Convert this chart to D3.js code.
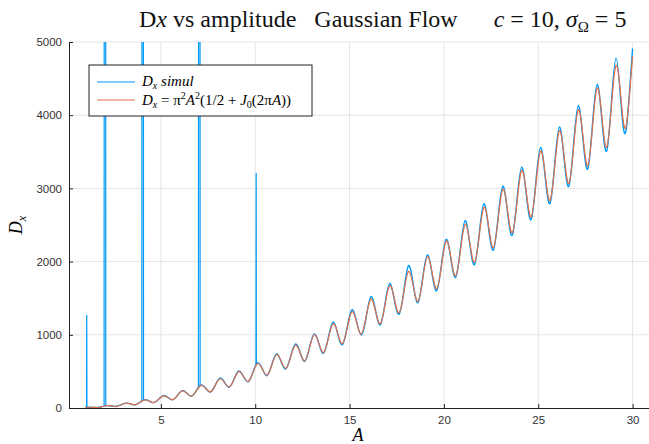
<!DOCTYPE html>
<html>
<head>
<meta charset="utf-8">
<script src="https://cdn.jsdelivr.net/npm/d3@7"></script>
<style>
  body { margin: 0; background: #fff; }
  svg { display: block; }
</style>
</head>
<body>
<svg id="chart" width="649" height="444"></svg>
<script>
// amplitude grid (peaks / zero crossings / troughs of the oscillation)
const ampGrid = [1,
  1.125, 1.375, 1.625, 1.875, 2.125, 2.375, 2.625, 2.875,
  3.125, 3.375, 3.625, 3.875, 4.125, 4.375, 4.625, 4.875,
  5.125, 5.375, 5.625, 5.875, 6.125, 6.375, 6.625, 6.875,
  7.125, 7.375, 7.625, 7.875, 8.125, 8.375, 8.625, 8.875,
  9.125, 9.375, 9.625, 9.875, 10.125, 10.375, 10.625, 10.875,
  11.125, 11.375, 11.625, 11.875, 12.125, 12.375, 12.625, 12.875,
  13.125, 13.375, 13.625, 13.875, 14.125, 14.375, 14.625, 14.875,
  15.125, 15.375, 15.625, 15.875, 16.125, 16.375, 16.625, 16.875,
  17.125, 17.375, 17.625, 17.875, 18.125, 18.375, 18.625, 18.875,
  19.125, 19.375, 19.625, 19.875, 20.125, 20.375, 20.625, 20.875,
  21.125, 21.375, 21.625, 21.875, 22.125, 22.375, 22.625, 22.875,
  23.125, 23.375, 23.625, 23.875, 24.125, 24.375, 24.625, 24.875,
  25.125, 25.375, 25.625, 25.875, 26.125, 26.375, 26.625, 26.875,
  27.125, 27.375, 27.625, 27.875, 28.125, 28.375, 28.625, 28.875,
  29.125, 29.375, 29.625, 29.875, 30];

// theory curve D = pi^2 A^2 (1/2 + J0(2 pi A)), values read on the grid
const theory = [7,
  10, 9, 6, 17, 32, 28, 21, 41,
  65, 56, 43, 74, 110, 95, 74, 117,
  166, 143, 114, 170, 233, 201, 163, 233,
  310, 268, 221, 306, 399, 346, 288, 389,
  497, 434, 363, 481, 607, 531, 448, 584,
  727, 639, 542, 696, 858, 756, 646, 818,
  1000, 883, 758, 950, 1151, 1020, 880, 1092,
  1314, 1167, 1011, 1244, 1487, 1323, 1151, 1405,
  1670, 1490, 1300, 1577, 1864, 1666, 1459, 1758,
  2068, 1853, 1628, 1949, 2282, 2049, 1805, 2150,
  2507, 2255, 1992, 2361, 2743, 2471, 2188, 2582,
  2988, 2696, 2394, 2813, 3244, 2932, 2609, 3054,
  3511, 3178, 2833, 3304, 3788, 3433, 3067, 3564,
  4075, 3698, 3310, 3834, 4372, 3973, 3562, 4115,
  4680, 4258, 3824, 4404, 4807];

// simulated D_x on the same grid
const simul = [8,
  11, 9, 7, 18, 33, 28, 21, 42,
  66, 57, 43, 75, 112, 96, 73, 118,
  170, 144, 112, 172, 238, 203, 160, 236,
  314, 270, 218, 309, 408, 350, 284, 392,
  505, 430, 358, 486, 618, 535, 442, 590,
  740, 632, 535, 703, 872, 762, 638, 826,
  1012, 876, 748, 962, 1175, 1010, 866, 1104,
  1340, 1180, 998, 1232, 1520, 1335, 1135, 1420,
  1700, 1474, 1282, 1595, 1945, 1690, 1440, 1775,
  2090, 1830, 1605, 1970, 2305, 2030, 1785, 2175,
  2560, 2230, 1960, 2390, 2790, 2440, 2160, 2610,
  3030, 2665, 2360, 2850, 3290, 2900, 2575, 3090,
  3560, 3140, 2795, 3340, 3840, 3390, 3030, 3610,
  4130, 3660, 3265, 3880, 4420, 3930, 3510, 4160,
  4780, 4200, 3760, 4460, 4910];

// numerical blow-ups of the simulation near A = 1, 2, 4, 7, 10
const spikeA = [[1.06, 1.07, 1.08], [1.99, 2, 2.07, 2.08], [3.99, 4, 4.07, 4.08],
  [6.99, 7, 7.07, 7.08], [10.04, 10.05, 10.06]];
const spikeD = [[9, 1270, 10], [24, 9000, 9000, 30], [95, 9000, 9000, 108],
  [270, 9000, 9000, 300], [585, 3210, 600]];

const xTicks = [5, 10, 15, 20, 25, 30];
const yTicks = [0, 1000, 2000, 3000, 4000, 5000];

const blue = "#009af9", orange = "#e26f46";
const serif = "'Liberation Serif', 'DejaVu Serif', serif";
const sans = "'Liberation Sans', Arial, sans-serif";

const svg = d3.select("#chart");
const pLeft = 69, pRight = 649, pTop = 42, pBottom = 408;

const x = d3.scaleLinear().domain([0.13, 30.87]).range([pLeft, pRight]);
const y = d3.scaleLinear().domain([0, 5000]).range([pBottom, pTop]);

svg.append("defs").append("clipPath").attr("id", "plotclip")
  .append("rect").attr("x", pLeft).attr("y", pTop)
  .attr("width", pRight - pLeft).attr("height", pBottom - pTop);

// grid
const grid = svg.append("g").attr("stroke", "#e5e5e5").attr("stroke-width", 1);
grid.selectAll(".gx").data(xTicks).join("line")
  .attr("x1", d => x(d)).attr("x2", d => x(d)).attr("y1", pTop).attr("y2", pBottom);
grid.selectAll(".gy").data(yTicks.slice(1)).join("line")
  .attr("y1", d => y(d)).attr("y2", d => y(d)).attr("x1", pLeft).attr("x2", pRight);

// series
const plot = svg.append("g").attr("clip-path", "url(#plotclip)");
const smooth = d3.line().x(d => x(d[0])).y(d => y(d[1])).curve(d3.curveNatural);
const straight = d3.line().x(d => x(d[0])).y(d => y(d[1]));

plot.append("path")
  .datum(d3.zip(ampGrid, simul))
  .attr("fill", "none").attr("stroke", blue).attr("stroke-width", 1.4)
  .attr("d", smooth);
plot.selectAll(".spike").data(d3.zip(spikeA, spikeD)).join("path")
  .attr("fill", "none").attr("stroke", blue).attr("stroke-width", 1.2)
  .attr("d", ([a, d]) => straight(d3.zip(a, d)));

plot.append("path")
  .datum(d3.zip(ampGrid, theory))
  .attr("fill", "none").attr("stroke", orange).attr("stroke-width", 1.2)
  .attr("d", smooth);

// axes
const xAxis = svg.append("g").attr("transform", `translate(0,${pBottom})`)
  .call(d3.axisBottom(x).tickValues(xTicks).tickFormat(d3.format("d"))
    .tickSize(-4).tickSizeOuter(0).tickPadding(8));
const yAxis = svg.append("g").attr("transform", `translate(${pLeft},0)`)
  .call(d3.axisLeft(y).tickValues(yTicks).tickFormat(d3.format("d"))
    .tickSize(-4).tickSizeOuter(0).tickPadding(7));
[xAxis, yAxis].forEach(g => {
  g.select(".domain").attr("stroke", "#222").attr("stroke-width", 1);
  g.selectAll(".tick line").attr("stroke", "#222");
  g.selectAll(".tick text").attr("fill", "#333")
    .style("font-family", sans).style("font-size", "11.5px");
});

// axis labels
svg.append("text").attr("x", 358).attr("y", 441).attr("text-anchor", "middle")
  .style("font-family", serif).style("font-style", "italic").style("font-size", "18px")
  .text("A");
const yl = svg.append("text").attr("transform", "translate(22,225) rotate(-90)")
  .attr("text-anchor", "middle").style("font-family", serif).style("font-size", "18px");
yl.append("tspan").style("font-style", "italic").text("D");
yl.append("tspan").style("font-style", "italic").style("font-size", "12px").attr("dy", 4).text("x");

// title
const title = svg.append("text").attr("x", 139).attr("y", 27)
  .style("font-family", serif).style("font-size", "24px").attr("fill", "#111");
title.append("tspan").text("D");
title.append("tspan").style("font-style", "italic").text("x");
title.append("tspan").text(" vs amplitude\u2002 Gaussian Flow\u2003\u2002");
title.append("tspan").style("font-style", "italic").text("c");
title.append("tspan").text(" = 10, ");
title.append("tspan").style("font-style", "italic").text("\u03c3");
title.append("tspan").style("font-size", "15px").attr("dy", 5).text("\u03a9");
title.append("tspan").attr("dy", -5).text(" = 5");

// legend
const lg = svg.append("g");
lg.append("rect").attr("x", 89).attr("y", 65).attr("width", 223).attr("height", 51)
  .attr("fill", "#fff").attr("stroke", "#222").attr("stroke-width", 1);
const legendItems = [
  { color: blue, y: 82 },
  { color: orange, y: 100 }
];
lg.selectAll("line").data(legendItems).join("line")
  .attr("x1", 97).attr("x2", 135).attr("y1", d => d.y).attr("y2", d => d.y)
  .attr("stroke", d => d.color).attr("stroke-width", 1.2);

const t1 = lg.append("text").attr("x", 142).attr("y", 86)
  .style("font-family", serif).style("font-size", "15px").style("font-style", "italic");
t1.append("tspan").text("D");
t1.append("tspan").style("font-size", "10px").attr("dy", 3).text("x");
t1.append("tspan").attr("dy", -3).text(" simul");

const t2 = lg.append("text").attr("x", 142).attr("y", 105)
  .style("font-family", serif).style("font-size", "15px");
t2.append("tspan").style("font-style", "italic").text("D");
t2.append("tspan").style("font-style", "italic").style("font-size", "10px").attr("dy", 3).text("x");
t2.append("tspan").attr("dy", -3).text(" = \u03c0");
t2.append("tspan").style("font-size", "10px").attr("dy", -6).text("2");
t2.append("tspan").style("font-style", "italic").attr("dy", 6).text("A");
t2.append("tspan").style("font-size", "10px").attr("dy", -6).text("2");
t2.append("tspan").attr("dy", 6).text("(1/2 + ");
t2.append("tspan").style("font-style", "italic").text("J");
t2.append("tspan").style("font-size", "10px").attr("dy", 3).text("0");
t2.append("tspan").attr("dy", -3).text("(2\u03c0");
t2.append("tspan").style("font-style", "italic").text("A");
t2.append("tspan").text("))");
</script>
</body>
</html>
